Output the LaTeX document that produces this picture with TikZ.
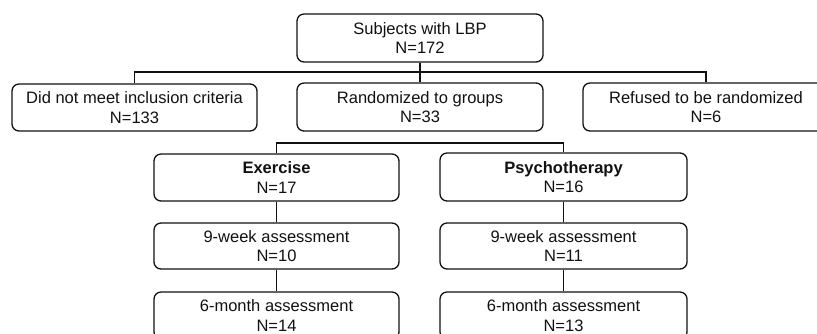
\documentclass[tikz,border=0pt]{standalone}
\usepackage{fontspec}
\setsansfont{Liberation Sans}
\usepackage{xcolor}
\usetikzlibrary{
    positioning,
    calc
}
\definecolor{dark}{HTML}{111111}
\tikzset{
    % Box style
    stagebox/.style={
        rectangle,
        rounded corners=6pt,
        minimum width=7.38cm,
        minimum height=1.44cm,
        align=center,
        font=\fontsize{14.1}{16.8}\selectfont\sffamily,
        draw=dark,
        text=dark,
        line width=1.1pt,
        inner sep=2pt
    },
    % Connector style
    link/.style={
        line width=1.3pt,
        color=dark
    }
}

\begin{document}
\begin{tikzpicture}[x=0.03cm, y=-0.03cm]

        % Frame of the picture
        \useasboundingbox (0,0) rectangle (817,333);
        \clip (0,0) rectangle (817,333);

        % Row 1
        \node[stagebox] (subjects) at (420,38) {Subjects with LBP\\N=172};

        % Row 2
        \node[stagebox, minimum width=7.35cm, minimum height=1.41cm] (excluded) at (134.5,107.5) {Did not meet inclusion criteria\\N=133};
        \node[stagebox] (randomized) at (420,107) {Randomized to groups\\N=33};
        \node[stagebox] (refused) at (706,107) {Refused to be randomized\\N=6};

        % Groups
        \node[stagebox, minimum width=7.35cm, minimum height=1.41cm] (exercise) at (276.5,177.5) {\textbf{Exercise}\\N=17};
        \node[stagebox, minimum width=7.41cm] (psycho) at (563.5,177) {\textbf{Psychotherapy}\\N=16};

        % Assessments
        \node[stagebox, minimum width=7.35cm, minimum height=1.38cm] (exweek) at (276.5,246) {9-week assessment\\N=10};
        \node[stagebox, minimum width=7.41cm, minimum height=1.38cm] (psweek) at (563.5,246) {9-week assessment\\N=11};
        \node[stagebox, minimum width=7.35cm, minimum height=1.41cm] (exmonth) at (276.5,315.5) {6-month assessment\\N=14};
        \node[stagebox, minimum width=7.41cm, minimum height=1.41cm] (psmonth) at (563.5,315.5) {6-month assessment\\N=13};

        % Split points
        \coordinate (split1) at (420,72);
        \coordinate (split2) at (420,143);

        % Connections
        \draw[link] (subjects) -- (randomized);
        \draw[link] (excluded.north) |- (split1) -| (refused.north);
        \draw[link] (exercise.north) |- (split2) -| (psycho.north);
        \draw[link] (exercise) -- (exweek);
        \draw[link] (exweek) -- (exmonth);
        \draw[link] (psycho) -- (psweek);
        \draw[link] (psweek) -- (psmonth);

    \end{tikzpicture}
\end{document}
